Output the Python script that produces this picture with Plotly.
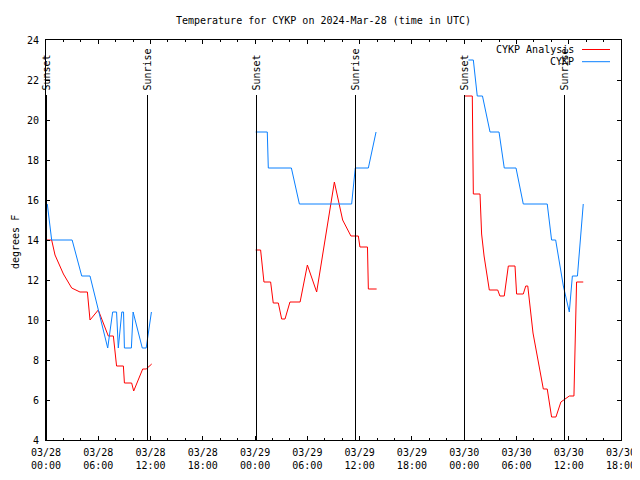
import plotly.graph_objects as go

FONT = "DejaVu Sans Mono"

# ---- data ----
obs_d1_t = ["2024-03-28 00:09", "2024-03-28 00:39", "2024-03-28 03:00", "2024-03-28 04:06",
            "2024-03-28 05:03", "2024-03-28 07:05", "2024-03-28 07:39", "2024-03-28 08:06",
            "2024-03-28 08:18", "2024-03-28 08:42", "2024-03-28 08:54", "2024-03-28 09:00",
            "2024-03-28 09:48", "2024-03-28 10:00", "2024-03-28 11:03", "2024-03-28 11:30",
            "2024-03-28 12:06"]
obs_d1_v = [15.8, 14.0, 14.0, 12.2, 12.2, 8.6, 10.4, 10.4, 8.6, 10.4, 10.4, 8.6, 8.6, 10.4, 8.6, 8.6, 10.4]

obs_d2_t = ["2024-03-29 00:04", "2024-03-29 01:24", "2024-03-29 01:31", "2024-03-29 04:10",
            "2024-03-29 05:05", "2024-03-29 11:05", "2024-03-29 11:30", "2024-03-29 13:00",
            "2024-03-29 13:53"]
obs_d2_v = [19.4, 19.4, 17.6, 17.6, 15.8, 15.8, 17.6, 17.6, 19.4]

obs_d3_t = ["2024-03-30 00:29", "2024-03-30 01:03", "2024-03-30 01:30", "2024-03-30 02:06",
            "2024-03-30 02:58", "2024-03-30 04:00", "2024-03-30 04:36", "2024-03-30 05:57",
            "2024-03-30 06:47", "2024-03-30 09:32", "2024-03-30 10:02", "2024-03-30 10:30",
            "2024-03-30 11:23", "2024-03-30 12:04", "2024-03-30 12:25", "2024-03-30 13:00",
            "2024-03-30 13:40"]
obs_d3_v = [23.0, 23.0, 21.2, 21.2, 19.4, 19.4, 17.6, 17.6, 15.8, 15.8, 14.0, 14.0, 11.7, 10.4, 12.2,
            12.2, 15.8]

ana_d1_t = ["2024-03-28 00:05", "2024-03-28 00:39", "2024-03-28 01:02", "2024-03-28 02:00",
            "2024-03-28 02:57", "2024-03-28 03:54", "2024-03-28 04:45", "2024-03-28 05:03",
            "2024-03-28 06:00", "2024-03-28 07:09", "2024-03-28 07:44", "2024-03-28 08:06",
            "2024-03-28 08:53", "2024-03-28 09:00", "2024-03-28 09:50", "2024-03-28 10:04",
            "2024-03-28 11:06", "2024-03-28 11:30", "2024-03-28 12:08"]
ana_d1_v = [14.0, 14.0, 13.25, 12.3, 11.6, 11.4, 11.4, 10.0, 10.5, 9.2, 9.2, 7.7, 7.7, 6.85, 6.85,
            6.45, 7.55, 7.55, 7.8]

ana_d2_t = ["2024-03-29 00:04", "2024-03-29 00:38", "2024-03-29 01:01", "2024-03-29 01:47",
            "2024-03-29 02:05", "2024-03-29 02:40", "2024-03-29 03:03", "2024-03-29 03:26",
            "2024-03-29 04:00", "2024-03-29 05:10", "2024-03-29 06:00", "2024-03-29 07:04",
            "2024-03-29 09:06", "2024-03-29 10:03", "2024-03-29 11:00", "2024-03-29 11:51",
            "2024-03-29 12:02", "2024-03-29 12:54", "2024-03-29 13:00", "2024-03-29 13:57"]
ana_d2_v = [13.5, 13.5, 11.9, 11.9, 10.85, 10.85, 10.05, 10.05, 10.9, 10.9, 12.75, 11.4, 16.9, 15.0,
            14.2, 14.2, 13.65, 13.65, 11.55, 11.55]

ana_d3_t = ["2024-03-30 00:01", "2024-03-30 00:56", "2024-03-30 01:03", "2024-03-30 01:49",
            "2024-03-30 02:00", "2024-03-30 02:17", "2024-03-30 02:53", "2024-03-30 03:51",
            "2024-03-30 04:06", "2024-03-30 04:36", "2024-03-30 05:04", "2024-03-30 05:50",
            "2024-03-30 06:01", "2024-03-30 06:47", "2024-03-30 07:04", "2024-03-30 07:18",
            "2024-03-30 07:54", "2024-03-30 08:30", "2024-03-30 09:05", "2024-03-30 09:32",
            "2024-03-30 10:02", "2024-03-30 10:32", "2024-03-30 11:06", "2024-03-30 12:04",
            "2024-03-30 12:36", "2024-03-30 12:54", "2024-03-30 13:40"]
ana_d3_v = [21.2, 21.2, 16.3, 16.3, 14.3, 13.2, 11.5, 11.5, 11.2, 11.2, 12.7, 12.7, 11.3, 11.3, 11.7,
            11.7, 9.35, 8.0, 6.55, 6.55, 5.15, 5.15, 5.9, 6.2, 6.2, 11.9, 11.9]

sun_times = ["2024-03-28 00:03:25", "2024-03-28 11:39:00", "2024-03-29 00:09:43",
             "2024-03-29 11:31:34", "2024-03-30 00:02:17", "2024-03-30 11:30:58"]
sun_labels = ["Sunset", "Sunrise", "Sunset", "Sunrise", "Sunset", "Sunrise"]

x_range = ["2024-03-28 00:00", "2024-03-30 18:00"]
y_range = [4, 24]
title_text = "Temperature for CYKP on 2024-Mar-28 (time in UTC)"
y_title = "degrees F"
series_names = ["CYKP Analysis", "CYKP"]
series_colors = ["#ff0000", "#0a80ff"]


def join(parts_t, parts_v):
    xs, ys = [], []
    for t, v in zip(parts_t, parts_v):
        if xs:
            xs.append(None)
            ys.append(None)
        xs += t
        ys += v
    return xs, ys


ana_x, ana_y = join([ana_d1_t, ana_d2_t, ana_d3_t], [ana_d1_v, ana_d2_v, ana_d3_v])
obs_x, obs_y = join([obs_d1_t, obs_d2_t, obs_d3_t], [obs_d1_v, obs_d2_v, obs_d3_v])

fig = go.Figure()
fig.add_trace(go.Scatter(x=ana_x, y=ana_y, mode="lines", name=series_names[0],
                         line=dict(color=series_colors[0], width=1), connectgaps=False))
fig.add_trace(go.Scatter(x=obs_x, y=obs_y, mode="lines", name=series_names[1],
                         line=dict(color=series_colors[1], width=1), connectgaps=False))

# the page body adds an 8px offset; window-pixel layout targets below
OFF = 8
W, H = 640 - OFF, 480 - OFF
PL, PR, PT, PB = 46, 621, 40, 440          # plot area in window pixels
L, R, T, B = PL - OFF, (OFF + W) - PR, PT - OFF, (OFF + H) - PB


def px_x(p):
    return (p - PL) / (PR - PL)


def px_y(p):
    return (PB - p) / (PB - PT)


shapes = []
annotations = []
for t, lab in zip(sun_times, sun_labels):
    shapes.append(dict(type="line", xref="x", yref="paper", x0=t, x1=t,
                       y0=0, y1=px_y(95), line=dict(color="black", width=1)))
    annotations.append(dict(x=t, xref="x", y=px_y(93), yref="paper", text=lab,
                            textangle=-90, showarrow=False, xanchor="center",
                            yanchor="bottom", font=dict(family=FONT, size=10, color="black")))

# legend (gnuplot style: text right-aligned, sample to the right)
for i, (nm, col) in enumerate(zip(series_names, series_colors)):
    yy = px_y(49.5 + 12.2 * i)
    annotations.append(dict(x=px_x(576), xref="paper", y=yy, yref="paper", text=nm,
                            showarrow=False, xanchor="right", yanchor="middle",
                            font=dict(family=FONT, size=10, color="black")))
    shapes.append(dict(type="line", xref="paper", yref="paper", x0=px_x(582), x1=px_x(610),
                       y0=yy, y1=yy, line=dict(color=col, width=1)))

annotations.append(dict(x=px_x(15), xref="paper", y=px_y(242), yref="paper", text=y_title,
                        textangle=-90, showarrow=False, xanchor="center", yanchor="middle",
                        font=dict(family=FONT, size=10, color="black")))

fig.update_layout(
    width=W, height=H, autosize=False,
    margin=dict(l=L, r=R, t=T, b=B, pad=0, autoexpand=False),
    paper_bgcolor="white", plot_bgcolor="white",
    showlegend=False,
    font=dict(family=FONT, size=10, color="black"),
    title=dict(text=title_text, x=px_x(333), xanchor="center", y=1 - (20.5 - OFF) / H,
               yanchor="middle", yref="container",
               font=dict(family=FONT, size=10, color="black"), automargin=False),
    shapes=shapes, annotations=annotations,
)
fig.update_xaxes(
    type="date", range=x_range, dtick=6 * 3600 * 1000, tick0="2024-03-28 00:00",
    tickformat="%m/%d<br>%H:%M", ticks="inside", ticklen=4, tickcolor="black",
    showline=True, linecolor="black", linewidth=1, mirror="ticks", showgrid=False,
    zeroline=False, automargin=False, ticklabelstandoff=3,
    minor=dict(dtick=2 * 3600 * 1000, tick0="2024-03-28 00:00", ticks="inside", ticklen=2,
               tickcolor="black", showgrid=False),
    tickfont=dict(family=FONT, size=10, color="black"),
)
fig.update_yaxes(
    range=y_range, dtick=2, tick0=0, ticks="inside", ticklen=4, tickcolor="black",
    showline=True, linecolor="black", linewidth=1, mirror="ticks", showgrid=False,
    zeroline=False, automargin=False, ticklabelstandoff=4,
    tickfont=dict(family=FONT, size=10, color="black"),
)

fig.write_html("out.html")
